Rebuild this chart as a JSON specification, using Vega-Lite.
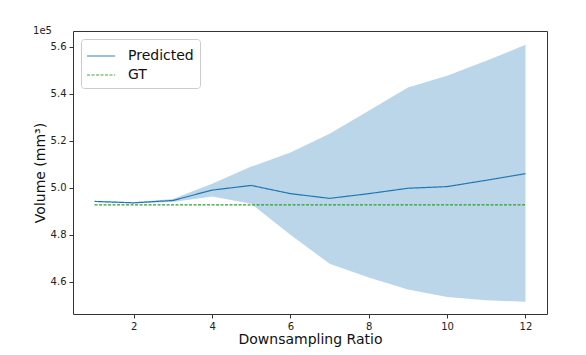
{
  "$schema": "https://vega.github.io/schema/vega-lite/v6.json",
  "autosize": {"type": "none"},
  "padding": {"left": 73, "top": 31, "right": 39, "bottom": 41},
  "width": 474,
  "height": 283,
  "background": "white",
  "title": {"text": "1e5", "anchor": "start", "fontSize": 10, "fontWeight": "normal", "font": "DejaVu Sans", "color": "#222", "offset": 0, "dy": 5},
  "config": {
    "font": "DejaVu Sans",
    "view": {"stroke": "#333", "strokeWidth": 1},
    "axis": {"grid": false, "domain": false, "tickColor": "#333", "tickSize": 4, "labelFontSize": 10, "labelColor": "#222", "labelPadding": 3, "titleFontSize": 14, "titleFontWeight": "normal", "titleColor": "#111", "labelFont": "DejaVu Sans", "titleFont": "DejaVu Sans"}
  },
  "data": {
    "values": [
      {"ratio": 1, "Predicted": 494200, "lower": 494000, "upper": 494400, "GT": 492700},
      {"ratio": 2, "Predicted": 493600, "lower": 493400, "upper": 493800, "GT": 492700},
      {"ratio": 3, "Predicted": 494600, "lower": 494000, "upper": 495200, "GT": 492700},
      {"ratio": 4, "Predicted": 499000, "lower": 496300, "upper": 501700, "GT": 492700},
      {"ratio": 5, "Predicted": 501000, "lower": 493200, "upper": 509000, "GT": 492700},
      {"ratio": 6, "Predicted": 497500, "lower": 480000, "upper": 515000, "GT": 492700},
      {"ratio": 7, "Predicted": 495500, "lower": 467700, "upper": 523000, "GT": 492700},
      {"ratio": 8, "Predicted": 497500, "lower": 461800, "upper": 532800, "GT": 492700},
      {"ratio": 9, "Predicted": 499800, "lower": 456700, "upper": 542700, "GT": 492700},
      {"ratio": 10, "Predicted": 500500, "lower": 453500, "upper": 547700, "GT": 492700},
      {"ratio": 11, "Predicted": 503200, "lower": 452200, "upper": 554000, "GT": 492700},
      {"ratio": 12, "Predicted": 506000, "lower": 451500, "upper": 560800, "GT": 492700}
    ]
  },
  "layer": [
    {
      "mark": {"type": "area", "color": "#1f77b4", "opacity": 0.3},
      "encoding": {
        "x": {"field": "ratio", "type": "quantitative", "scale": {"domain": [0.45, 12.55], "nice": false, "zero": false}, "axis": {"values": [2, 4, 6, 8, 10, 12], "title": "Downsampling Ratio", "titlePadding": 1}},
        "y": {"field": "lower", "type": "quantitative", "scale": {"domain": [446300, 566700], "nice": false, "zero": false}, "axis": {"values": [460000, 480000, 500000, 520000, 540000, 560000], "labelExpr": "format(datum.value/100000, '.1f')", "title": "Volume (mm³)", "titlePadding": 3}},
        "y2": {"field": "upper"}
      }
    },
    {
      "transform": [{"fold": ["Predicted", "GT"], "as": ["series", "value"]}],
      "mark": {"type": "line", "strokeWidth": 1.2},
      "encoding": {
        "x": {"field": "ratio", "type": "quantitative"},
        "y": {"field": "value", "type": "quantitative"},
        "color": {"field": "series", "type": "nominal", "scale": {"domain": ["Predicted", "GT"], "range": ["#1f77b4", "#2ca02c"]}, "legend": {"title": null, "orient": "top-left", "offset": 8, "padding": 6, "labelFontSize": 14, "labelColor": "#111", "labelFont": "DejaVu Sans", "symbolType": "M-1.4,0H1.4", "symbolSize": 400, "symbolStrokeWidth": 1.5, "symbolOpacity": 0.6, "symbolOffset": 3, "rowPadding": 1, "labelOffset": 16, "fillColor": "white", "strokeColor": "#ccc", "cornerRadius": 3}},
        "strokeDash": {"field": "series", "type": "nominal", "scale": {"domain": ["Predicted", "GT"], "range": [[1, 0], [3, 1.5]]}, "legend": null}
      }
    }
  ]
}
